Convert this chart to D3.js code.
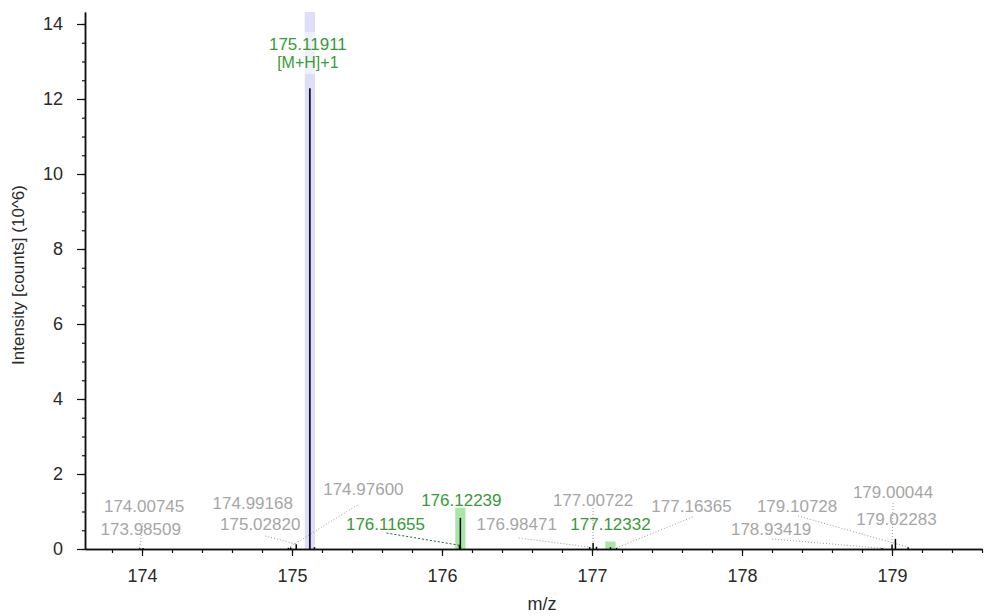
<!DOCTYPE html>
<html>
<head>
<meta charset="utf-8">
<script src="https://cdn.jsdelivr.net/npm/d3@7"></script>
<style>
  body { margin: 0; background: #fff; }
  svg text { font-family: "Liberation Sans", Arial, sans-serif; }
</style>
</head>
<body>
<svg id="chart" width="992" height="616"></svg>
<script>
// peaks (m/z, intensity in 10^6 counts)
var peakMz  = [173.98509, 174.00745, 174.97600, 174.99168, 175.02820, 175.11911, 175.15000,
               176.11655, 176.12239, 176.98471, 177.00722, 177.03000, 177.12332, 177.16365,
               178.93419, 179.00044, 179.02283, 179.10728];
var peakInt = [0.02, 0.03, 0.03, 0.04, 0.13, 12.29, 0.05,
               0.10, 0.83, 0.05, 0.16, 0.06, 0.05, 0.03,
               0.02, 0.12, 0.27, 0.05];

// theoretical isotope bands
var bandMz  = [175.11911, 176.12239, 177.12332];
var bandTop = [14.32, 1.10, 0.20];
var bandKind = ["main", "iso", "iso"];

// labelled peaks
var labelMz   = [173.98509, 174.00745, 174.99168, 175.02820, 174.97600, 175.11911,
                 176.11655, 176.12239, 176.98471, 177.00722, 177.12332, 177.16365,
                 178.93419, 179.00044, 179.02283, 179.10728];
var labelKind = ["gray", "gray", "gray", "gray", "gray", "green",
                 "green", "green", "gray", "gray", "green", "gray",
                 "gray", "gray", "gray", "gray"];
var mainAnnotation = "[M+H]+1";

var xTicks = [174, 175, 176, 177, 178, 179];
var yTicks = [0, 2, 4, 6, 8, 10, 12, 14];

// label layout: dx from peak, baseline y, leader start offset (lx, ly) from label anchor
var labelLayout = {
  "173.98509": {dx: 1,    y: 535, lead: [2, -12]},
  "174.00745": {dx: 1,    y: 512, lead: null},
  "174.99168": {dx: -38,  y: 509, lead: null},
  "175.02820": {dx: -36,  y: 530, lead: [5, 6]},
  "174.97600": {dx: 75,   y: 495, lead: [-6, 10]},
  "175.11911": {dx: -2,   y: 50,  lead: null},
  "176.11655": {dx: -74,  y: 530, lead: [1, 3]},
  "176.12239": {dx: 1,    y: 506, lead: null},
  "176.98471": {dx: -73,  y: 530, lead: [2, 8]},
  "177.00722": {dx: 0,    y: 506, lead: [0, 2]},
  "177.12332": {dx: 0,    y: 530, lead: null},
  "177.16365": {dx: 75,   y: 512, lead: [1, 5]},
  "178.93419": {dx: -111, y: 535, lead: [1, 4]},
  "179.00044": {dx: 1,    y: 498, lead: [0, 5]},
  "179.02283": {dx: 1,    y: 525, lead: null},
  "179.10728": {dx: -111, y: 512, lead: [1, 4]}
};

var svg = d3.select("#chart");
var plotLeft = 85, plotRight = 982, plotTop = 12, plotBottom = 549;

var x = d3.scaleLinear().domain([173.62, 179.6]).range([plotLeft, plotRight]);
var y = d3.scaleLinear().domain([0, 14.32]).range([plotBottom, plotTop]);

// bands
var halfW = 0.034;
svg.append("g").selectAll("rect")
  .data(bandMz)
  .enter().append("rect")
    .attr("x", function(d){ return x(d - halfW); })
    .attr("width", function(d){ return x(d + halfW) - x(d - halfW); })
    .attr("y", function(d, i){ return y(bandTop[i]); })
    .attr("height", function(d, i){ return y(0) - y(bandTop[i]); })
    .attr("fill", function(d, i){ return bandKind[i] == "main" ? "#dedef6" : "#a8e6a8"; });

// leader lines
var leaders = svg.append("g");
labelMz.forEach(function(mz, i){
  var key = mz.toFixed(5);
  var lay = labelLayout[key];
  if (!lay.lead) return;
  var pi = peakMz.indexOf(mz);
  var cx = x(mz) + lay.dx;
  leaders.append("line")
    .attr("x1", cx + lay.lead[0])
    .attr("y1", lay.y + lay.lead[1])
    .attr("x2", x(mz))
    .attr("y2", y(peakInt[pi]))
    .attr("stroke", labelKind[i] == "green" ? "#2d5a2d" : "#9a9a9a")
    .attr("stroke-width", 1)
    .attr("stroke-dasharray", labelKind[i] == "green" ? "2,2" : "1,2");
});

// peak sticks
svg.append("g").selectAll("line")
  .data(peakMz)
  .enter().append("line")
    .attr("x1", function(d){ return x(d); })
    .attr("x2", function(d){ return x(d); })
    .attr("y1", y(0))
    .attr("y2", function(d, i){ return y(peakInt[i]); })
    .attr("stroke", function(d, i){ return peakInt[i] > 5 ? "#14143a" : "#000"; })
    .attr("stroke-width", function(d, i){ return peakInt[i] > 5 ? 1.8 : 1.5; });

// axes
var xAxis = svg.append("g").attr("transform", "translate(0," + plotBottom + ")");
xAxis.call(d3.axisBottom(x).tickValues(d3.range(173.8, 179.61, 0.2)).tickSize(4).tickSizeOuter(0).tickFormat(""));
xAxis.append("g").call(d3.axisBottom(x).tickValues(xTicks).tickSize(7).tickSizeOuter(0).tickPadding(13).tickFormat(d3.format("d")));

var yAxis = svg.append("g").attr("transform", "translate(" + plotLeft + ",0)");
yAxis.call(d3.axisLeft(y).tickValues(d3.range(0, 14.01, 0.5)).tickSize(3).tickSizeOuter(0).tickFormat(""));
yAxis.append("g").call(d3.axisLeft(y).tickValues(yTicks).tickSize(8).tickSizeOuter(0).tickPadding(14).tickFormat(d3.format("d")));

svg.selectAll(".domain").attr("stroke", "#111").attr("stroke-width", 1.5);
svg.selectAll(".tick line").attr("stroke", "#111").attr("stroke-width", 1.2);
svg.selectAll(".tick text").attr("font-size", 18).attr("fill", "#2a2a2a")
  .style("font-family", "'Liberation Sans', Arial, sans-serif");

// axis titles
svg.append("text")
  .attr("x", 542).attr("y", 610)
  .attr("text-anchor", "middle")
  .attr("font-size", 18).attr("fill", "#2a2a2a")
  .text("m/z");

svg.append("text")
  .attr("transform", "translate(24,275) rotate(-90)")
  .attr("text-anchor", "middle")
  .attr("font-size", 17).attr("fill", "#2a2a2a")
  .text("Intensity [counts] (10^6)");

// peak labels
var labels = svg.append("g");
labelMz.forEach(function(mz, i){
  var key = mz.toFixed(5);
  var lay = labelLayout[key];
  var cx = x(mz) + lay.dx;
  var col = labelKind[i] == "green" ? "#389a38" : "#a6a6a6";
  if (mz == 175.11911) {
    labels.append("rect")
      .attr("x", cx - 42).attr("y", lay.y - 18)
      .attr("width", 84).attr("height", 42)
      .attr("fill", "#fff").attr("opacity", 0.55);
  }
  labels.append("text")
    .attr("x", cx).attr("y", lay.y)
    .attr("text-anchor", "middle")
    .attr("font-size", 17)
    .attr("fill", col)
    .text(key);
  if (mz == 175.11911) {
    labels.append("text")
      .attr("x", cx).attr("y", lay.y + 18)
      .attr("text-anchor", "middle")
      .attr("font-size", 16)
      .attr("fill", col)
      .text(mainAnnotation);
  }
});
</script>
</body>
</html>
